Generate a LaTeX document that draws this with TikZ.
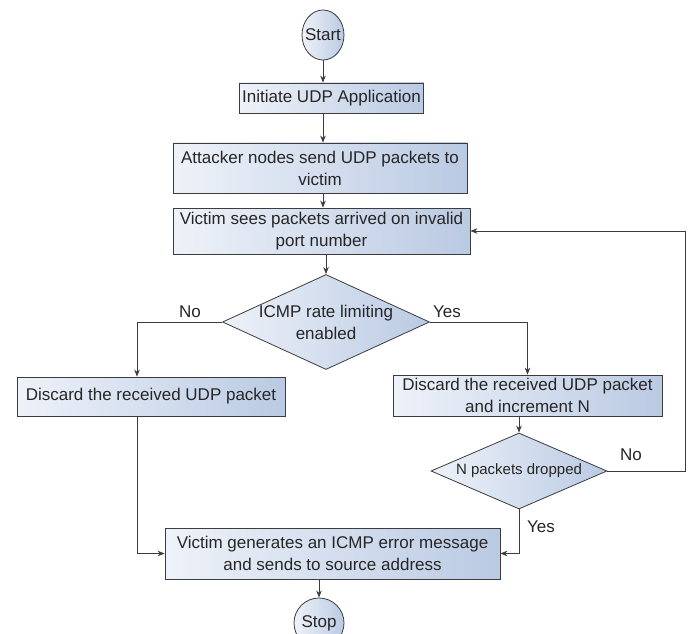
\documentclass[tikz,border=0pt]{standalone}
\usepackage{fontspec}
\setmainfont{Liberation Sans}
\usetikzlibrary{shapes.geometric,arrows.meta,calc}
\definecolor{fl}{RGB}{238,242,249}
\definecolor{fr}{RGB}{186,202,227}
\definecolor{ln}{RGB}{60,60,60}
\begin{document}
\begin{tikzpicture}[x=1bp,y=-1bp,
 every node/.style={font=\fontsize{17bp}{22bp}\selectfont, text=black!85},
 box/.style={draw=ln, line width=0.8bp, left color=fl, right color=fr, align=center, inner xsep=3bp, inner ysep=2bp},
 decide/.style={diamond, draw=ln, line width=0.8bp, left color=fl, right color=fr, align=center},
 term/.style={ellipse, draw=ln, line width=0.8bp, left color=fl, right color=fr, inner ysep=0bp},
 conn/.style={draw=ln, line width=0.8bp, -{Stealth[length=7bp,width=5.5bp]}},
 lbl/.style={inner sep=0bp}
]
\fill[white] (0,0) rectangle (688,634);
\useasboundingbox (0,0) rectangle (688,634);
\node[term, minimum width=42bp, minimum height=50bp, inner xsep=-7bp] (start) at (323,35) {Start};
\node[box, minimum width=167bp, minimum height=30bp] (init) at (331.5,98) {Initiate UDP Application};
\node[box, minimum width=294bp, minimum height=50bp] (att) at (320,168) {Attacker nodes send UDP packets to\\victim};
\node[box, minimum width=297bp, minimum height=46bp] (vic) at (321.5,231) {Victim sees packets arrived on invalid\\port number};
\node[decide, minimum width=207bp, minimum height=95bp, aspect=2.18, inner sep=-5bp] (d1) at (326,322) {ICMP rate limiting\\enabled};
\node[box, minimum width=268bp, minimum height=39bp] (ld) at (151,396.5) {Discard the received UDP packet};
\node[box, minimum width=269bp, minimum height=41bp, inner ysep=1bp] (rd) at (527.5,395.5) {Discard the received UDP packet\\and increment N};
\node[decide, minimum width=176bp, minimum height=76bp, aspect=2.32, inner sep=0bp, font=\fontsize{15bp}{18bp}\selectfont] (d2) at (519,471) {N packets dropped};
\node[box, minimum width=335bp, minimum height=51bp] (fin) at (332.5,553.5) {Victim generates an ICMP error message\\and sends to source address};
\node[term, minimum width=50bp, minimum height=50bp, inner xsep=-5bp] (stop) at (319,623) {Stop};
\node[lbl] (lno) at (190,312) {No};
\node[lbl] (lyes) at (447,312) {Yes};
\node[lbl] (rno) at (631,455) {No};
\node[lbl] (ryes) at (541,527) {Yes};
\coordinate (lx) at (137,322);
\coordinate (rx) at (685,471);
\draw[conn] (start.south) -- (start.south |- init.north);
\draw[conn] (init.south -| start) -- (att.north -| start);
\draw[conn] (att.south -| start) -- (vic.north -| start);
\draw[conn] (vic.south -| d1) -- (d1.north);
\draw[conn] (d1.west) -| (lx |- ld.north);
\draw[conn] (d1.east) -| (rd.north);
\draw[conn] (rd.south -| d2) -- (d2.north);
\draw[conn] (d2.east) -- (rx) |- (vic.east);
\draw[conn] (d2.south) |- (fin.east);
\draw[conn] (lx |- ld.south) |- (fin.west);
\draw[conn] (fin.south -| stop) -- (stop.north);
\end{tikzpicture}
\end{document}
